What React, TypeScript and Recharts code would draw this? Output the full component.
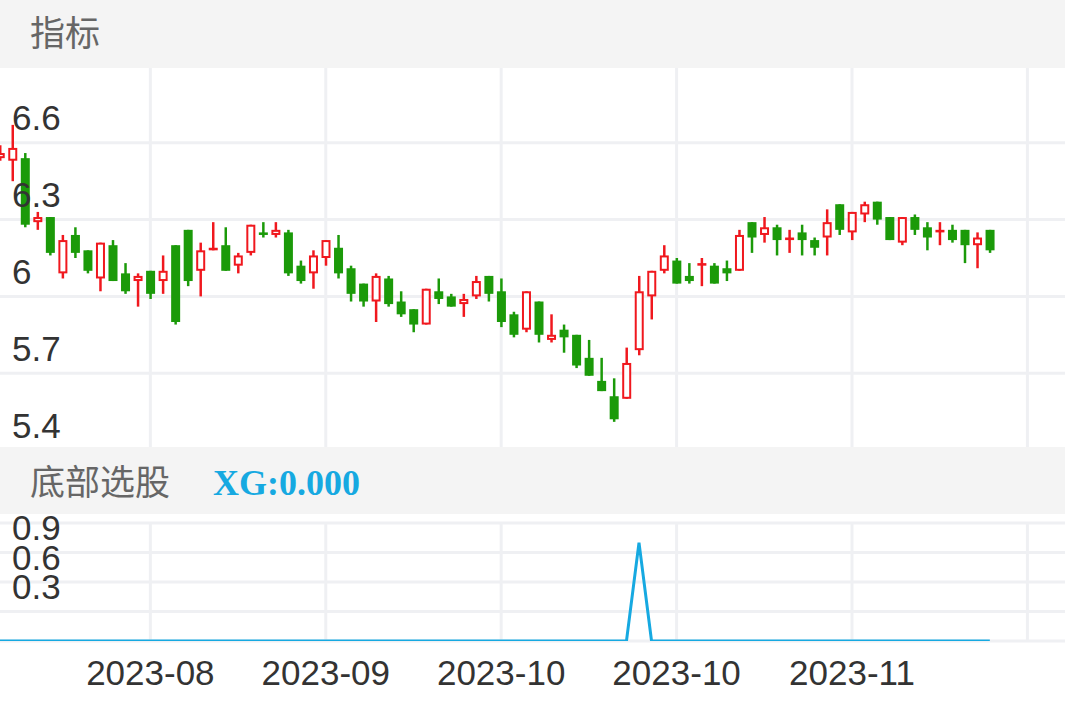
import React from 'react';
import { ComposedChart, LineChart, Bar, Line, XAxis, YAxis, CartesianGrid } from 'recharts';

// ---- data ----
const opens = [6.54, 6.53, 6.54, 6.29, 6.31, 6.09, 6.24, 6.18, 6.07, 6.20, 6.09, 6.06, 6.10, 6.06, 6.20, 6.26, 6.10, 6.18, 6.20, 6.12,
  6.17, 6.25, 6.24, 6.25, 6.12, 6.09, 6.15, 6.19, 6.11, 6.05, 5.98, 6.07, 5.98, 5.95, 5.89, 6.02, 6.00, 5.97, 6.00, 6.08,
  6.02, 5.93, 5.87, 5.98, 5.83, 5.87, 5.85, 5.76, 5.67, 5.61, 5.60, 5.79, 6.00, 6.10, 6.14, 6.08, 6.12, 6.12, 6.11, 6.10,
  6.29, 6.24, 6.27, 6.22, 6.25, 6.22, 6.23, 6.36, 6.25, 6.32, 6.37, 6.31, 6.21, 6.31, 6.27, 6.25, 6.26, 6.26, 6.20, 6.26];
const highs = [6.59, 6.67, 6.56, 6.33, 6.31, 6.24, 6.27, 6.18, 6.21, 6.22, 6.13, 6.09, 6.10, 6.16, 6.20, 6.26, 6.21, 6.29, 6.27, 6.17,
  6.28, 6.29, 6.29, 6.26, 6.14, 6.18, 6.22, 6.24, 6.12, 6.05, 6.09, 6.08, 6.02, 5.95, 6.03, 6.07, 6.01, 6.01, 6.08, 6.08,
  6.07, 5.94, 6.02, 5.98, 5.93, 5.89, 5.85, 5.83, 5.76, 5.68, 5.80, 6.08, 6.10, 6.20, 6.15, 6.13, 6.15, 6.13, 6.14, 6.26,
  6.29, 6.31, 6.28, 6.26, 6.28, 6.23, 6.34, 6.36, 6.33, 6.37, 6.37, 6.31, 6.31, 6.32, 6.29, 6.29, 6.28, 6.26, 6.25, 6.26];
const lows = [6.53, 6.45, 6.27, 6.26, 6.16, 6.07, 6.15, 6.09, 6.02, 6.06, 6.01, 5.96, 5.99, 6.01, 5.89, 6.04, 6.00, 6.18, 6.10, 6.09,
  6.16, 6.23, 6.23, 6.08, 6.05, 6.03, 6.12, 6.07, 5.98, 5.96, 5.90, 5.96, 5.92, 5.86, 5.89, 5.97, 5.96, 5.92, 5.99, 5.98,
  5.88, 5.84, 5.86, 5.82, 5.82, 5.78, 5.72, 5.69, 5.63, 5.51, 5.60, 5.77, 5.91, 6.09, 6.05, 6.05, 6.04, 6.05, 6.06, 6.10,
  6.17, 6.21, 6.16, 6.17, 6.16, 6.16, 6.16, 6.24, 6.22, 6.29, 6.28, 6.22, 6.20, 6.24, 6.18, 6.20, 6.21, 6.13, 6.11, 6.17];
const closes = [6.56, 6.58, 6.28, 6.31, 6.17, 6.22, 6.17, 6.10, 6.21, 6.06, 6.02, 6.08, 6.01, 6.10, 5.90, 6.06, 6.18, 6.19, 6.10, 6.16,
  6.28, 6.24, 6.26, 6.09, 6.06, 6.16, 6.22, 6.09, 6.01, 5.98, 6.08, 5.97, 5.93, 5.89, 6.03, 5.99, 5.96, 5.99, 6.06, 6.01,
  5.90, 5.85, 6.02, 5.85, 5.85, 5.84, 5.73, 5.69, 5.63, 5.52, 5.74, 6.02, 6.10, 6.16, 6.05, 6.06, 6.13, 6.05, 6.09, 6.24,
  6.23, 6.27, 6.22, 6.23, 6.22, 6.19, 6.29, 6.26, 6.33, 6.36, 6.30, 6.22, 6.31, 6.26, 6.23, 6.26, 6.22, 6.20, 6.23, 6.18];
const xgValues = [0, 0, 0, 0, 0, 0, 0, 0, 0, 0, 0, 0, 0, 0, 0, 0, 0, 0, 0, 0,
  0, 0, 0, 0, 0, 0, 0, 0, 0, 0, 0, 0, 0, 0, 0, 0, 0, 0, 0, 0,
  0, 0, 0, 0, 0, 0, 0, 0, 0, 0, 0, 1, 0, 0, 0, 0, 0, 0, 0, 0,
  0, 0, 0, 0, 0, 0, 0, 0, 0, 0, 0, 0, 0, 0, 0, 0, 0, 0, 0, 0];

const xTickIndex = [12, 26, 40, 54, 68, 82];
const xTickLabels = ['2023-08', '2023-09', '2023-10', '2023-10', '2023-11', ''];
const priceTicks = [5.4, 5.7, 6, 6.3, 6.6, 6.9];
const priceTickShown = [5.4, 5.7, 6, 6.3, 6.6];
const xgTicks = [0, 0.3, 0.6, 0.9, 1.2];
const xgTickShown = [0.3, 0.6, 0.9];

const candles = opens.map((o, i) => ({ i, open: o, high: highs[i], low: lows[i], close: closes[i] }));
const xgData = xgValues.map((v, i) => ({ i, xg: v }));

const RED = '#f0181e';
const GREEN = '#1b9a09';
const BLUE = '#16a9e1';
const GRID = '#eff0f3';
const FONT = '"Liberation Sans", Arial, Helvetica, sans-serif';
const CJK = '"Noto Sans CJK SC", "Noto Sans", sans-serif';
const W = 1065;
const X_DOMAIN: [number, number] = [0, 85];

const CandleShape = (props: any) => {
  const { x, y, width, height, payload } = props;
  if (!payload) return null;
  const { open, close, high, low } = payload;
  const top = Math.min(y, y + height);
  const bot = Math.max(y, y + height);
  const k = high === low ? 0 : (bot - top) / (high - low);
  const py = (v: number) => top + (high - v) * k;
  const cx = x + width / 2;
  const up = close >= open;
  const color = up ? RED : GREEN;
  const bTop = py(Math.max(open, close));
  const bBot = py(Math.min(open, close));
  const h = bBot - bTop;
  return (
    <g>
      <line x1={cx} x2={cx} y1={top} y2={bot} stroke={color} strokeWidth={2.5} />
      {up ? (
        h > 2.5 ? (
          <rect x={x + 1} y={bTop + 1} width={width - 2} height={h - 2} fill="#fff" stroke={color} strokeWidth={2} />
        ) : (
          <rect x={x} y={bTop} width={width} height={Math.max(h, 2)} fill={color} />
        )
      ) : (
        <rect x={x} y={bTop} width={width} height={Math.max(h, 2)} fill={color} />
      )}
    </g>
  );
};

const makeYTick = (shown: number[]) => (props: any) => {
  const { y, payload } = props;
  const ok = shown.some((s) => Math.abs(s - payload.value) < 1e-9);
  if (!ok) return <g />;
  return (
    <text x={12} y={y - 25} fill="#333" fontSize={35} fontFamily={FONT} dominantBaseline="central" textAnchor="start">
      {String(payload.value)}
    </text>
  );
};

const XTick = (props: any) => {
  const { x, y, payload } = props;
  const idx = xTickIndex.indexOf(payload.value);
  const label = idx >= 0 ? xTickLabels[idx] : '';
  return (
    <text x={x} y={y + 23} fill="#333" fontSize={35} fontFamily={FONT} dominantBaseline="central" textAnchor="middle">
      {label}
    </text>
  );
};

// vertical grid lines at the x-axis tick values, placed through the axis scale
const verticalGen = (props: any) => {
  const ax = props && props.xAxis;
  if (ax && typeof ax.scale === 'function') return xTickIndex.map((v) => ax.scale(v));
  const off = (props && props.offset) || { left: 0, width: W };
  return xTickIndex.map((v) => off.left + ((v - X_DOMAIN[0]) / (X_DOMAIN[1] - X_DOMAIN[0])) * off.width);
};

export default function App() {
  return (
    <div style={{ position: 'fixed', left: 0, top: 0, width: W, height: 708, background: '#fff', overflow: 'hidden' }}>
      {/* main candlestick chart */}
      <div style={{ position: 'absolute', left: 0, top: 66, width: W, height: 384 }}>
        <ComposedChart width={W} height={384} data={candles} margin={{ top: 0, right: 0, bottom: 0, left: 0 }}>
          <CartesianGrid stroke={GRID} strokeWidth={3} verticalCoordinatesGenerator={verticalGen} />
          <XAxis type="number" dataKey="i" domain={X_DOMAIN} ticks={xTickIndex} allowDataOverflow hide />
          <YAxis type="number" domain={[5.4, 6.9]} ticks={priceTicks} interval={0} allowDataOverflow mirror axisLine={false} tickLine={false} tick={makeYTick(priceTickShown)} />
          <Bar dataKey={(d: any) => [d.low, d.high]} barSize={9} shape={CandleShape} isAnimationActive={false} />
        </ComposedChart>
      </div>

      {/* bottom indicator chart */}
      <div style={{ position: 'absolute', left: 0, top: 514, width: W, height: 194 }}>
        <LineChart width={W} height={194} data={xgData} margin={{ top: 9, right: 0, bottom: 0, left: 0 }}>
          <CartesianGrid stroke={GRID} strokeWidth={3} verticalCoordinatesGenerator={verticalGen} />
          <XAxis type="number" dataKey="i" domain={X_DOMAIN} ticks={xTickIndex} allowDataOverflow height={67} axisLine={false} tickLine={false} tick={XTick} interval={0} />
          <YAxis type="number" domain={[0, 1.2]} ticks={xgTicks} interval={0} allowDataOverflow mirror axisLine={false} tickLine={false} tick={makeYTick(xgTickShown)} />
          <Line type="linear" dataKey="xg" stroke={BLUE} strokeWidth={3} dot={false} isAnimationActive={false} />
        </LineChart>
      </div>

      {/* header bands */}
      <div style={{ position: 'absolute', left: 0, top: 0, width: W, height: 68, background: '#f4f4f4' }}>
        <span style={{ position: 'absolute', left: 30, top: 13, fontSize: 35, lineHeight: '35px', color: '#666', fontFamily: CJK, whiteSpace: 'nowrap' }}>指标</span>
      </div>
      <div style={{ position: 'absolute', left: 0, top: 447, width: W, height: 67, background: '#f4f4f4' }}>
        <span style={{ position: 'absolute', left: 30, top: 15, fontSize: 35, lineHeight: '35px', color: '#666', fontFamily: CJK, whiteSpace: 'nowrap' }}>底部选股</span>
        <span style={{ position: 'absolute', left: 213, top: 18, fontSize: 36, lineHeight: '36px', color: BLUE, fontFamily: '"Liberation Serif", "Times New Roman", serif', fontWeight: 'bold', whiteSpace: 'nowrap' }}>XG:0.000</span>
      </div>
    </div>
  );
}
